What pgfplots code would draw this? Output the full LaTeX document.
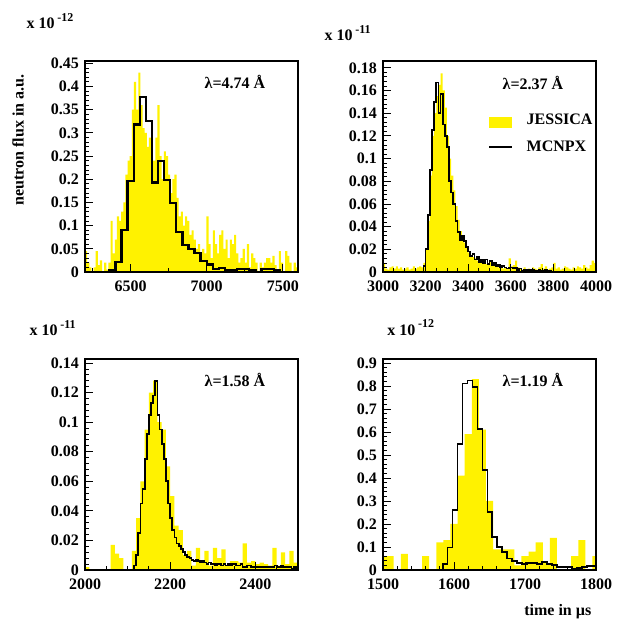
\documentclass[border=0pt]{standalone}
\usepackage{fontspec}
\setmainfont{Liberation Serif}
\usepackage{pgfplots}
\pgfplotsset{compat=1.18}
\newcommand\lbl{\bfseries\fontsize{12}{14}\selectfont}
\newcommand\expo[1]{x 10\,\raisebox{1.0ex}{\fontsize{9}{9}\selectfont #1}}

\pgfplotsset{
  rootaxis/.style={
    scale only axis, width=159.75pt, height=158.25pt, anchor=south west,
    axis on top, ymin=0,
    tick align=inside, xtick pos=left, ytick pos=left,
    major tick length=6pt, minor tick length=3pt,
    every tick/.style={black, line width=0.6pt},
    axis line style={line width=0.8pt},
    ticklabel style={font=\lbl},
    /pgf/number format/assume math mode=true,
    /pgf/number format/1000 sep={},
    scaled ticks=false,
    yticklabel style={/pgf/number format/fixed, /pgf/number format/precision=2, xshift=-1pt},
    xticklabel style={yshift=-3pt},
  },
  jes/.style={const plot, fill=yellow, draw=none},
  mcn/.style={const plot, black, line width=1.3pt, mark=none},
}

\begin{document}
\begin{tikzpicture}
\path[use as bounding box] (0,0) rectangle (464.25pt,465.75pt);

% lambda = 4.74 A
\begin{axis}[rootaxis, at={(63.75pt,261.75pt)},
  xmin=6200, xmax=7600, ymax=0.455,
  xtick={6500,7000,7500}, minor xtick={6250,6750,7250},
  ytick={0,0.05,...,0.45}, minor y tick num=4]
\addplot[jes] coordinates {
(6200,0.045)(6214,0.02)(6228,0.01)(6242,0)(6256,0.01)(6270,0.045)(6284,0.015)(6298,0.025)(6312,0)(6326,0.02)
(6340,0.005)(6354,0.02)(6368,0.11)(6382,0.04)(6396,0.07)(6410,0.12)(6424,0.11)(6438,0.13)(6452,0.15)(6466,0.21)
(6480,0.24)(6494,0.25)(6508,0.35)(6522,0.41)(6536,0.35)(6550,0.43)(6564,0.36)(6578,0.31)(6592,0.30)(6606,0.27)
(6620,0.29)(6634,0.24)(6648,0.24)(6662,0.29)(6676,0.36)(6690,0.25)(6704,0.20)(6718,0.26)(6732,0.25)(6746,0.21)
(6760,0.17)(6774,0.20)(6788,0.21)(6802,0.16)(6816,0.12)(6830,0.13)(6844,0.10)(6858,0.12)(6872,0.11)(6886,0.08)
(6900,0.09)(6914,0.07)(6928,0.05)(6942,0.06)(6956,0.04)(6970,0.05)(6984,0.04)(6998,0.12)(7012,0.06)(7026,0.03)
(7040,0.09)(7054,0.06)(7068,0.04)(7082,0.08)(7096,0.09)(7110,0.05)(7124,0.07)(7138,0.03)(7152,0.07)(7166,0.06)
(7180,0.08)(7194,0.04)(7208,0.02)(7222,0.03)(7236,0.05)(7250,0.02)(7264,0.06)(7278,0.01)(7292,0.04)(7306,0.03)
(7320,0.02)(7334,0)(7348,0.02)(7362,0.01)(7376,0.02)(7390,0.03)(7404,0.03)(7418,0.02)(7432,0.035)(7446,0.015)
(7460,0.005)(7474,0.045)(7488,0.02)(7502,0)(7516,0.045)(7530,0.035)(7544,0.02)(7558,0)(7572,0.02)(7586,0.01)
(7600,0.01)} \closedcycle;
\addplot[mcn, line width=1.7pt] coordinates {
(6200,0)(6240,0)(6280,0)(6320,0)(6360,0.004)(6400,0.022)(6440,0.091)(6480,0.196)(6520,0.318)(6560,0.377)
(6600,0.326)(6640,0.193)(6680,0.239)(6720,0.199)(6760,0.149)(6800,0.086)(6840,0.058)(6880,0.050)(6920,0.041)(6960,0.023)
(7000,0.016)(7040,0.007)(7080,0.008)(7120,0.004)(7160,0.005)(7200,0.006)(7240,0.007)(7280,0.004)(7320,0)(7360,0.007)
(7400,0.006)(7440,0.003)(7480,0)(7520,0)(7560,0)(7600,0)};
\end{axis}

% lambda = 2.37 A
\begin{axis}[rootaxis, at={(287.25pt,261.75pt)},
  xmin=3000, xmax=4000, ymax=0.186,
  xtick={3000,3200,...,4000}, minor x tick num=3,
  ytick={0,0.02,...,0.18}, minor y tick num=4]
\addplot[jes] coordinates {
(3000,0.007)(3010,0.003)(3020,0.002)(3030,0.004)(3040,0.005)(3050,0.003)(3060,0.005)(3070,0.003)(3080,0.004)(3090,0.002)
(3100,0.003)(3110,0.004)(3120,0.002)(3130,0.003)(3140,0.005)(3150,0.003)(3160,0.004)(3170,0.005)(3180,0.004)(3190,0.008)
(3200,0.02)(3210,0.045)(3220,0.085)(3230,0.12)(3240,0.14)(3250,0.155)(3260,0.165)(3270,0.175)(3280,0.16)(3290,0.145)
(3300,0.12)(3310,0.10)(3320,0.085)(3330,0.072)(3340,0.058)(3350,0.046)(3360,0.036)(3370,0.031)(3380,0.026)(3390,0.021)
(3400,0.017)(3410,0.015)(3420,0.013)(3430,0.012)(3440,0.010)(3450,0.010)(3460,0.009)(3470,0.008)(3480,0.007)(3490,0.006)
(3500,0.010)(3510,0.008)(3520,0.007)(3530,0.005)(3540,0.004)(3550,0.005)(3560,0.003)(3570,0.004)(3580,0.003)(3590,0.012)
(3600,0.005)(3610,0.006)(3620,0.010)(3630,0.004)(3640,0.003)(3650,0.002)(3660,0.004)(3670,0.002)(3680,0.003)(3690,0.002)
(3700,0.004)(3710,0.003)(3720,0.002)(3730,0.004)(3740,0.007)(3750,0.003)(3760,0.005)(3770,0.002)(3780,0.003)(3790,0.004)
(3800,0.008)(3810,0.003)(3820,0.004)(3830,0.002)(3840,0.003)(3850,0.005)(3860,0.004)(3870,0.003)(3880,0.002)(3890,0.004)
(3900,0.003)(3910,0.005)(3920,0.004)(3930,0.003)(3940,0.006)(3950,0.004)(3960,0.003)(3970,0.006)(3980,0.010)(3990,0.008)
(4000,0.008)} \closedcycle;
\addplot[mcn] coordinates {
(3000,0)(3100,0)(3190,0.005)(3200,0.02)(3210,0.05)(3220,0.09)(3230,0.125)(3240,0.15)(3250,0.167)(3260,0.14)
(3270,0.157)(3280,0.13)(3290,0.12)(3300,0.11)(3310,0.08)(3320,0.07)(3330,0.06)(3340,0.045)(3350,0.035)(3360,0.028)
(3370,0.032)(3380,0.027)(3390,0.022)(3400,0.018)(3410,0.014)(3420,0.016)(3430,0.011)(3440,0.013)(3450,0.009)(3460,0.011)
(3470,0.008)(3480,0.011)(3490,0.007)(3500,0.010)(3510,0.006)(3520,0.008)(3530,0.005)(3540,0.006)(3550,0.004)(3560,0.005)
(3570,0.004)(3580,0.003)(3590,0.004)(3600,0.004)(3610,0.003)(3620,0.004)(3630,0.002)(3640,0.003)(3650,0.001)(3660,0.002)
(3670,0.001)(3680,0.002)(3690,0.001)(3700,0.002)(3710,0.001)(3720,0.001)(3730,0.002)(3740,0.001)(3750,0.001)(3760,0.002)
(3770,0.001)(3780,0.001)(3790,0)(4000,0)};
\end{axis}

% lambda = 1.58 A
\begin{axis}[rootaxis, at={(63.75pt,38.25pt)},
  xmin=2000, xmax=2500, ymax=0.1427,
  xtick={2000,2200,2400}, minor xtick={2050,2100,2150,2250,2300,2350,2450,2500},
  ytick={0,0.02,...,0.14}, minor y tick num=4]
\addplot[jes] coordinates {
(2000,0.002)(2010,0)(2020,0)(2030,0)(2040,0)(2050,0)(2060,0.017)(2070,0.011)(2080,0.008)(2090,0)
(2100,0)(2110,0.013)(2120,0.035)(2130,0.06)(2140,0.095)(2150,0.12)(2160,0.128)(2170,0.10)(2180,0.095)(2190,0.07)
(2200,0.05)(2210,0.03)(2220,0.027)(2230,0.01)(2240,0.013)(2250,0.003)(2260,0.015)(2270,0.005)(2280,0.013)(2290,0.003)
(2300,0.015)(2310,0.008)(2320,0.014)(2330,0.003)(2340,0.006)(2350,0.006)(2360,0.005)(2370,0.018)(2380,0.005)(2390,0.006)
(2400,0.004)(2410,0.005)(2420,0.004)(2430,0.003)(2440,0.015)(2450,0.003)(2460,0.012)(2470,0.004)(2480,0.013)(2490,0.005)
(2500,0.005)} \closedcycle;
\addplot[mcn] coordinates {
(2000,0)(2110,0)(2115,0.003)(2120,0.010)(2125,0.025)(2130,0.045)(2135,0.055)(2140,0.075)(2145,0.092)(2150,0.105)
(2155,0.113)(2160,0.118)(2165,0.128)(2170,0.105)(2175,0.095)(2180,0.085)(2185,0.075)(2190,0.060)(2195,0.045)(2200,0.035)
(2205,0.027)(2210,0.022)(2215,0.018)(2220,0.016)(2225,0.014)(2230,0.012)(2235,0.010)(2240,0.009)(2245,0.008)(2250,0.007)
(2255,0.006)(2260,0.007)(2265,0.006)(2270,0.005)(2275,0.006)(2280,0.005)(2285,0.004)(2290,0.005)(2295,0.004)(2300,0.004)
(2305,0.003)(2310,0.004)(2315,0.004)(2320,0.003)(2325,0.004)(2330,0.003)(2335,0.004)(2340,0.003)(2345,0.004)(2350,0.004)
(2355,0.003)(2360,0.003)(2365,0.004)(2370,0.002)(2375,0.002)(2380,0.003)(2385,0.003)(2390,0.002)(2395,0.002)(2400,0.002)
(2445,0.003)(2450,0.002)(2460,0.003)(2465,0.002)(2485,0.001)(2490,0.002)(2495,0.001)(2500,0.001)};
\end{axis}

% lambda = 1.19 A
\begin{axis}[rootaxis, at={(287.25pt,38.25pt)},
  xmin=1500, xmax=1800, ymax=0.917,
  xtick={1500,1600,1700,1800}, minor x tick num=4,
  ytick={0,0.1,...,0.9}, minor y tick num=4]
\addplot[jes] coordinates {
(1495,0.06)(1505,0.06)(1515,0)(1525,0.07)(1535,0)(1545,0)(1555,0.06)(1565,0)(1575,0.12)(1585,0.13)
(1595,0.20)(1605,0.41)(1615,0.59)(1625,0.83)(1635,0.61)(1645,0.30)(1655,0.09)(1665,0.09)(1675,0.09)(1685,0.02)
(1695,0.06)(1705,0.08)(1715,0.12)(1725,0.03)(1735,0.14)(1745,0)(1755,0)(1765,0.06)(1775,0.13)(1785,0)
(1795,0.06)(1805,0.06)} \closedcycle;
\addplot[mcn] coordinates {
(1500,0)(1577,0)(1584,0.026)(1591,0.098)(1598,0.26)(1605,0.546)(1612,0.81)(1619,0.823)(1626,0.794)(1633,0.614)
(1640,0.433)(1647,0.253)(1654,0.144)(1661,0.10)(1668,0.079)(1675,0.05)(1682,0.040)(1689,0.032)(1696,0.026)(1703,0.029)
(1710,0.032)(1717,0.026)(1724,0.036)(1731,0.026)(1738,0.022)(1745,0.014)(1752,0.014)(1759,0.012)(1766,0.006)(1773,0.010)
(1780,0.013)(1787,0.016)(1794,0.017)(1801,0.017)};
\end{axis}

% labels
\node[anchor=west, font=\lbl] at (16.5pt,450pt) {\expo{-12}};
\node[anchor=west, font=\lbl] at (240pt,441pt) {\expo{-11}};
\node[anchor=west, font=\lbl] at (18.75pt,219.75pt) {\expo{-11}};
\node[anchor=west, font=\lbl] at (287pt,220pt) {\expo{-12}};
\node[rotate=90, font=\lbl] at (13.5pt,360.75pt) {neutron flux in a.u.};
\node[anchor=east, font=\lbl] at (447pt,6.75pt) {time in µs};
\node[font=\lbl] at (176.25pt,404.25pt) {λ=4.74 Å};
\node[font=\lbl] at (399.75pt,403.5pt) {λ=2.37 Å};
\node[font=\lbl] at (176.25pt,180.75pt) {λ=1.58 Å};
\node[font=\lbl] at (399.75pt,180.75pt) {λ=1.19 Å};
% legend
\fill[yellow] (366.75pt,369.75pt) rectangle (384pt,378pt);
\node[anchor=west, font=\lbl] at (391.5pt,376.5pt) {JESSICA};
\draw[black, line width=0.8pt] (366.75pt,355.5pt) -- (384pt,355.5pt);
\node[anchor=west, font=\lbl] at (391.5pt,356.25pt) {MCNPX};
\end{tikzpicture}
\end{document}
